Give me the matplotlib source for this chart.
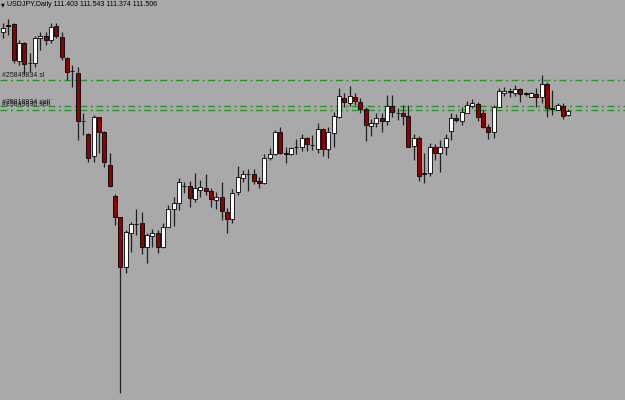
import numpy as np
import matplotlib
matplotlib.use("Agg")
import matplotlib.pyplot as plt

symbol_text = "USDJPY,Daily 111.403 111.543 111.374 111.506"

opens = [113.36, 113.52, 113.55, 112.68, 113.10, 112.63, 112.63, 113.22, 113.26, 113.17,
 113.50, 113.24, 112.75, 112.44, 112.39, 111.27, 110.96, 110.44, 111.36, 111.01,
 110.23, 109.50, 109.01, 107.84, 108.64, 108.85, 108.87, 108.31, 108.57, 108.64,
 108.31, 108.78, 109.20, 109.34, 109.74, 109.74, 109.43, 109.65, 109.69, 109.62,
 109.41, 109.48, 109.13, 108.96, 109.60, 109.93, 110.02, 110.02, 109.86, 109.81,
 110.40, 110.49, 111.01, 110.51, 110.49, 110.66, 110.66, 110.87, 110.70, 110.61,
 111.08, 110.61, 110.98, 111.36, 111.81, 111.69, 111.83, 111.71, 111.55, 111.15,
 111.22, 111.34, 111.27, 111.62, 111.46, 111.46, 111.39, 110.68, 110.87, 110.04,
 110.04, 110.66, 110.51, 110.66, 111.03, 111.34, 111.27, 111.46, 111.62, 111.67,
 111.46, 111.13, 111.01, 111.60, 111.92, 111.97, 111.92, 112.02, 111.92, 111.83,
 111.90, 111.83, 112.14, 111.57, 111.53, 111.62, 111.403]

highs = [113.57, 113.66, 113.57, 113.17, 113.12, 112.86, 113.26, 113.36, 113.36, 113.57,
 113.57, 113.36, 112.77, 112.58, 112.54, 111.46, 110.98, 111.41, 111.37, 111.02,
 110.51, 109.55, 109.02, 108.71, 108.89, 109.20, 109.13, 108.64, 108.73, 108.71,
 108.87, 109.29, 109.48, 109.93, 109.83, 109.86, 110.04, 109.88, 110.02, 109.69,
 109.60, 109.83, 109.22, 109.67, 110.21, 110.12, 110.14, 110.14, 109.95, 110.49,
 110.63, 111.06, 111.13, 110.66, 110.66, 110.84, 110.96, 110.89, 110.94, 111.22,
 111.10, 111.13, 111.48, 112.04, 111.92, 112.09, 111.92, 111.81, 111.60, 111.31,
 111.46, 111.46, 111.88, 111.88, 111.57, 111.64, 111.64, 110.96, 110.91, 110.51,
 110.75, 110.73, 110.82, 110.96, 111.46, 111.43, 111.60, 111.73, 111.78, 111.71,
 111.53, 111.20, 111.64, 112.04, 112.07, 112.04, 112.11, 112.04, 111.95, 111.95,
 112.04, 112.35, 112.18, 112.00, 111.69, 111.69, 111.543]

lows = [113.22, 113.29, 112.63, 112.58, 112.37, 112.42, 112.54, 112.94, 113.05, 113.10,
 113.22, 112.70, 112.23, 112.07, 110.82, 110.94, 110.30, 110.30, 110.51, 110.19,
 109.71, 108.82, 104.87, 107.70, 108.19, 108.59, 108.15, 107.93, 108.31, 108.17,
 108.29, 108.77, 108.80, 109.18, 109.57, 109.25, 109.36, 109.48, 109.53, 109.25,
 109.20, 108.94, 108.64, 108.87, 109.53, 109.83, 109.62, 109.79, 109.69, 109.79,
 110.35, 110.47, 110.49, 110.28, 110.47, 110.49, 110.56, 110.56, 110.59, 110.51,
 110.44, 110.40, 110.66, 111.34, 111.60, 111.62, 111.64, 111.46, 110.80, 110.91,
 111.13, 111.01, 111.17, 111.36, 111.29, 111.17, 110.65, 110.35, 109.86, 109.81,
 109.97, 110.35, 110.07, 110.47, 110.82, 111.24, 111.17, 111.45, 111.57, 111.27,
 111.10, 110.84, 110.87, 111.59, 111.85, 111.83, 111.85, 111.71, 111.85, 111.82,
 111.60, 111.69, 111.36, 111.41, 111.52, 111.31, 111.374]

closes = [113.45, 113.51, 112.70, 113.10, 112.61, 112.64, 113.22, 113.26, 113.17, 113.48,
 113.26, 112.77, 112.42, 112.43, 111.27, 111.26, 110.40, 111.36, 111.01, 110.30,
 109.74, 109.01, 107.84, 108.66, 108.85, 108.84, 108.31, 108.59, 108.64, 108.31,
 108.78, 109.20, 109.34, 109.83, 109.73, 109.46, 109.69, 109.71, 109.62, 109.43,
 109.48, 109.15, 108.96, 109.57, 109.95, 110.02, 110.01, 109.86, 109.81, 110.40,
 110.49, 111.01, 110.51, 110.50, 110.63, 110.65, 110.87, 110.73, 110.71, 111.08,
 110.61, 111.01, 111.39, 111.85, 111.71, 111.85, 111.73, 111.55, 111.17, 111.22,
 111.34, 111.27, 111.62, 111.48, 111.45, 111.39, 110.66, 110.87, 109.97, 110.03,
 110.66, 110.51, 110.66, 110.87, 111.34, 111.29, 111.48, 111.64, 111.69, 111.36,
 111.13, 111.01, 111.60, 111.97, 111.97, 111.95, 112.02, 111.90, 111.90, 111.92,
 111.83, 112.14, 111.57, 111.56, 111.64, 111.39, 111.506]

order_levels = [112.22, 111.62, 111.53]
order_labels = ["#25849834 sl", "#25818934 sell", "#25849830 sell"]

BG = "#A9A9A9"
BULL = "#FFFFFF"
BEAR = "#900000"
LINE_GREEN = "#2A922A"

fig = plt.figure(figsize=(6.25, 4.0), dpi=100)
fig.patch.set_facecolor(BG)
ax = fig.add_axes([0, 0, 1, 1])
ax.set_facecolor(BG)

n = len(opens)
x = np.arange(n)
o = np.array(opens); h = np.array(highs); l = np.array(lows); c = np.array(closes)

step_px = 5.333
ax.set_xlim(-3 / step_px, (625 - 3) / step_px)
ax.set_ylim(104.71, 114.11)
ax.axis("off")

# order lines
for lev in order_levels:
    ax.axhline(lev, color=LINE_GREEN, lw=1.0, linestyle=(0, (5, 2.5, 1.5, 2.5)), zorder=1)

# wicks
ax.vlines(x, l, h, color="#202020", lw=0.9, zorder=2)
# bodies
bottoms = np.minimum(o, c)
heights = np.maximum(np.abs(c - o), 0.004)
colors = [BULL if cc >= oo else BEAR for oo, cc in zip(o, c)]
ax.bar(x, heights, bottom=bottoms, width=0.74, color=colors, edgecolor="black",
       linewidth=0.6, zorder=3)

font = ["Liberation Sans Narrow", "Liberation Sans", "DejaVu Sans"]
ytr = ax.get_yaxis_transform()
offs = [0.0, -0.02, 0.02]
for lev, lab, off in zip(order_levels, order_labels, offs):
    ax.text(0.004, lev + 0.03 + off, lab, transform=ytr, fontsize=5.0, family=font,
            color="#1a1a1a", va="bottom", ha="left", zorder=5)
ax.text(0.068, order_levels[1] + 0.07, "- - -", transform=ytr, fontsize=5.0,
        family=font, color="#707070", va="bottom", ha="left", zorder=5)

# header
fig.text(0.001, 0.993, "\u25BC", fontsize=3.5, color="black", va="top", ha="left",
         family="DejaVu Sans")
fig.text(0.011, 0.997, symbol_text, fontsize=5.0, family=font, color="black",
         va="top", ha="left")

fig.savefig("out.png", dpi=100, facecolor=BG)
